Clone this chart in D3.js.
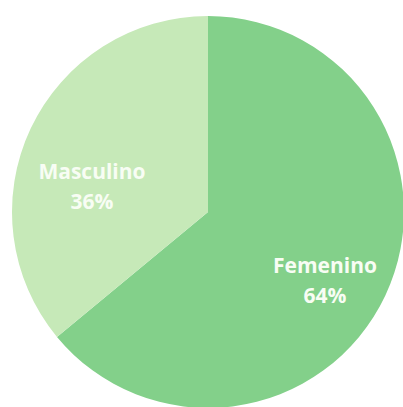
<!DOCTYPE html>
<html>
<head>
<meta charset="utf-8">
<script src="https://cdn.jsdelivr.net/npm/d3@7"></script>
<style>
  body { margin: 0; background: #fff; }
  .label { font-family: "Open Sans", sans-serif; font-weight: 700; fill: #f8fdf4; }
</style>
</head>
<body>
<div class="chart"></div>
<script>
const categories = ["Femenino", "Masculino"];
const values = [64, 36];
const pctLabels = ["64%", "36%"];
const colors = ["#83d08a", "#c6e9b8"];

const width = 403, height = 407;
const cx = 208, cy = 212, radius = 196;

// where each label block sits, relative to the pie centre
const labelNudge = {Femenino: [117, 64], Masculino: [-116, -30]};

const svg = d3.select(".chart").append("svg")
    .attr("width", width)
    .attr("height", height)
  .append("g")
    .attr("transform", "translate(" + cx + "," + cy + ")");

const data = categories.map((c, i) => ({name: c, value: values[i], pct: pctLabels[i], color: colors[i]}));

const pie = d3.pie()
    .sort(null)
    .value(d => d.value);

const arc = d3.arc()
    .innerRadius(0)
    .outerRadius(radius);

const arcs = pie(data);

svg.selectAll(".slice")
    .data(arcs)
    .enter()
    .append("path")
    .attr("class", "slice")
    .attr("d", arc)
    .attr("fill", d => d.data.color);

const labels = svg.selectAll(".label")
    .data(arcs)
    .enter()
    .append("text")
    .attr("class", "label")
    .attr("text-anchor", "middle")
    .attr("font-size", 21)
    .attr("transform", d => "translate(" + labelNudge[d.data.name].join(",") + ")");

labels.append("tspan")
    .attr("x", 0)
    .attr("dy", "-0.15em")
    .text(d => d.data.name);

labels.append("tspan")
    .attr("x", 0)
    .attr("dy", "1.45em")
    .text(d => d.data.pct);
</script>
</body>
</html>
